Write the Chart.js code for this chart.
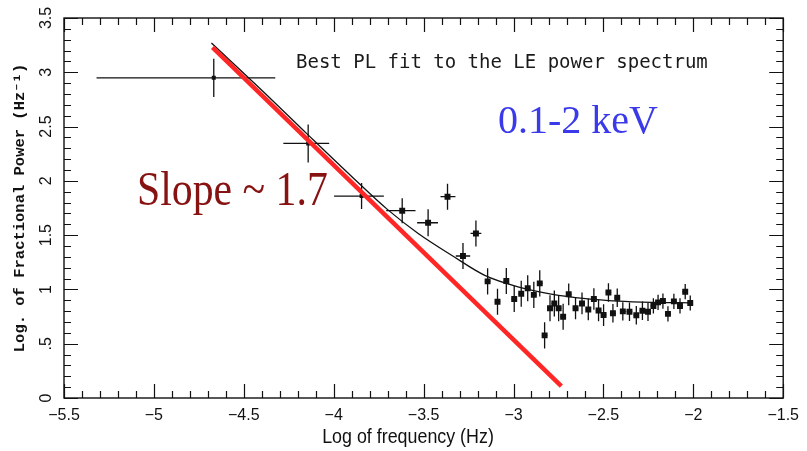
<!DOCTYPE html>
<html><head><meta charset="utf-8">
<script src="https://cdn.jsdelivr.net/npm/chart.js@4.4.1/dist/chart.umd.min.js"></script>
<style>html,body{margin:0;padding:0;background:#fff}canvas{display:block}</style>
</head><body>
<canvas id="c" width="807" height="451"></canvas>
<script>
// ---- data ----
const freq = [-4.667, -4.142, -3.845, -3.619, -3.475, -3.367, -3.281, -3.209,
  -3.144, -3.089, -3.040, -2.996, -2.957, -2.921, -2.887, -2.854, -2.827, -2.797, -2.773, -2.749, -2.724,
  -2.693, -2.655, -2.619, -2.584, -2.553, -2.527, -2.499,
  -2.472, -2.447, -2.423, -2.392, -2.355, -2.317, -2.283, -2.252,
  -2.222, -2.196, -2.169, -2.141, -2.108, -2.074, -2.045, -2.017];
const power = [2.949, 2.345, 1.86, 1.725, 1.614, 1.854, 1.308, 1.516,
  1.074, 0.887, 1.078, 0.912, 0.96, 1.01, 0.95, 1.056, 0.577, 0.826, 0.871, 0.826, 0.749,
  0.955, 0.826, 0.871, 0.816, 0.912, 0.806, 0.764,
  0.972, 0.78, 0.923, 0.798, 0.795, 0.762, 0.804, 0.795,
  0.848, 0.881, 0.893, 0.775, 0.89, 0.848, 0.979, 0.875];
const freqLo = [-5.319, -4.28, -3.998, -3.708, -3.536, -3.406, -3.321, -3.239,
  -3.159, -3.104, -3.055, -3.011, -2.972, -2.936, -2.902, -2.869, -2.842, -2.812, -2.788, -2.764, -2.739,
  -2.708, -2.67, -2.634, -2.599, -2.568, -2.542, -2.514,
  -2.487, -2.462, -2.438, -2.407, -2.37, -2.332, -2.298, -2.267,
  -2.237, -2.211, -2.184, -2.156, -2.123, -2.089, -2.06, -2.032];
const freqHi = [-4.325, -4.025, -3.721, -3.545, -3.42, -3.323, -3.241, -3.179,
  -3.129, -3.074, -3.025, -2.981, -2.942, -2.906, -2.872, -2.839, -2.812, -2.782, -2.758, -2.734, -2.709,
  -2.678, -2.64, -2.604, -2.569, -2.538, -2.512, -2.484,
  -2.457, -2.432, -2.408, -2.377, -2.34, -2.302, -2.268, -2.237,
  -2.207, -2.181, -2.154, -2.126, -2.093, -2.059, -2.03, -2.002];
const powerErr = [0.176, 0.175, 0.12, 0.115, 0.125, 0.12, 0.12, 0.12,
  0.12, 0.12, 0.12, 0.12, 0.12, 0.12, 0.12, 0.12, 0.12, 0.12, 0.12, 0.12, 0.12,
  0.1, 0.1, 0.1, 0.1, 0.1, 0.1, 0.1,
  0.085, 0.085, 0.085, 0.085, 0.085, 0.085, 0.085, 0.085,
  0.07, 0.07, 0.07, 0.07, 0.07, 0.07, 0.07, 0.07];
// best power-law fit curve (black)
const fitFreq  = [-4.68, -4.4, -4.15, -3.9, -3.7, -3.53, -3.34, -3.16, -2.97, -2.79, -2.6, -2.42, -2.23, -2.01];
const fitPower = [3.27, 2.835, 2.435, 2.04, 1.735, 1.515, 1.31, 1.13, 1.022, 0.957, 0.915, 0.892, 0.881, 0.877];
// slope ~1.7 line (red)
const slopeFreq  = [-4.674, -2.734];
const slopePower = [3.229, 0.11];
// tick labels
const xTickLabels = ['\u22125.5', '\u22125', '\u22124.5', '\u22124', '\u22123.5', '\u22123', '\u22122.5', '\u22122', '\u22121.5'];
const yTickLabels = ['0', '.5', '1', '1.5', '2', '2.5', '3', '3.5'];
const xMin = -5.5, xMax = -1.5, yMin = 0, yMax = 3.5;

const pts = freq.map((f, i) => ({x: f, y: power[i]}));
const fitPts = fitFreq.map((f, i) => ({x: f, y: fitPower[i]}));
const slopePts = slopeFreq.map((f, i) => ({x: f, y: slopePower[i]}));

const errorBars = {
  id: 'errorBars',
  beforeDatasetsDraw(chart) {
    const {ctx, scales: {x, y}} = chart;
    ctx.save();
    ctx.strokeStyle = '#111';
    ctx.lineWidth = 1.3;
    ctx.beginPath();
    freq.forEach((f, i) => {
      const px = x.getPixelForValue(f), py = y.getPixelForValue(power[i]);
      ctx.moveTo(x.getPixelForValue(freqLo[i]), py);
      ctx.lineTo(x.getPixelForValue(freqHi[i]), py);
      ctx.moveTo(px, y.getPixelForValue(power[i] - powerErr[i]));
      ctx.lineTo(px, y.getPixelForValue(power[i] + powerErr[i]));
    });
    ctx.stroke();
    ctx.restore();
  }
};

const frameTicks = {
  id: 'frameTicks',
  afterDraw(chart) {
    const {ctx, chartArea: a, scales: {x, y}} = chart;
    ctx.save();
    ctx.strokeStyle = '#111';
    ctx.lineWidth = 1.4;
    ctx.strokeRect(a.left, a.top, a.right - a.left, a.bottom - a.top);
    ctx.lineWidth = 1.2;
    ctx.beginPath();
    for (let k = 0; k <= 40; k++) {
      const v = xMin + k * 0.1;
      const px = Math.round(x.getPixelForValue(v)) + 0.5;
      const len = (k % 5 === 0) ? 14 : 7;
      ctx.moveTo(px, a.bottom); ctx.lineTo(px, a.bottom - len);
      ctx.moveTo(px, a.top); ctx.lineTo(px, a.top + len);
    }
    for (let k = 0; k <= 35; k++) {
      const v = yMin + k * 0.1;
      const py = Math.round(y.getPixelForValue(v)) + 0.5;
      const len = (k % 5 === 0) ? 14 : 7;
      ctx.moveTo(a.left, py); ctx.lineTo(a.left + len, py);
      ctx.moveTo(a.right, py); ctx.lineTo(a.right - len, py);
    }
    ctx.stroke();

    // y tick labels, rotated, centred on their ticks
    ctx.fillStyle = '#111';
    ctx.font = '16px "Liberation Sans", sans-serif';
    ctx.textAlign = 'center';
    ctx.textBaseline = 'middle';
    y.ticks.forEach(t => {
      const py = y.getPixelForValue(t.value);
      const lab = yTickLabels[Math.round((t.value - yMin) / 0.5)];
      ctx.save();
      ctx.translate(47, py);
      ctx.rotate(-Math.PI / 2);
      ctx.fillText(lab, 0, 0);
      ctx.restore();
    });

    // x axis title (condensed)
    ctx.save();
    ctx.translate(408, 437);
    ctx.scale(0.85, 1);
    ctx.font = '21px "Liberation Sans", sans-serif';
    ctx.fillText('Log of frequency (Hz)', 0, 0);
    ctx.restore();

    // annotations
    ctx.fillStyle = '#1a1a1a';
    ctx.font = '19px "DejaVu Sans Mono"';
    ctx.textBaseline = 'alphabetic';
    ctx.textAlign = 'left';
    ctx.fillText('Best PL fit to the LE power spectrum', 296, 68);

    ctx.fillStyle = 'rgb(58,58,235)';
    ctx.font = '40px "Liberation Serif"';
    ctx.fillText('0.1-2 keV', 498, 133);

    ctx.save();
    ctx.translate(137, 205);
    ctx.scale(0.87, 1);
    ctx.fillStyle = 'rgb(135,18,18)';
    ctx.font = '48px "Liberation Serif"';
    ctx.fillText('Slope ~ 1.7', 0, 0);
    ctx.restore();
    ctx.restore();
  }
};

new Chart(document.getElementById('c'), {
  type: 'scatter',
  data: {
    datasets: [
      {label: 'slope', data: slopePts, showLine: true, borderColor: '#ff2626', borderWidth: 4.5,
       pointRadius: 0, order: 0},
      {label: 'data', data: pts, pointStyle: 'rect',
       pointRadius: freq.map((f, i) => i < 3 ? 2.8 : 4.2),
       backgroundColor: '#111', borderColor: '#111', borderWidth: 0, order: 1},
      {label: 'fit', data: fitPts, showLine: true, borderColor: '#111', borderWidth: 1.3,
       pointRadius: 0, cubicInterpolationMode: 'monotone', order: 2}
    ]
  },
  options: {
    responsive: false, animation: false, devicePixelRatio: 1,
    layout: {padding: {top: 18, right: 21, left: 0, bottom: 0}},
    plugins: {legend: {display: false}, tooltip: {enabled: false}},
    scales: {
      x: {
        type: 'linear', min: xMin, max: xMax,
        grid: {display: false, drawTicks: false}, border: {display: false},
        ticks: {stepSize: 0.5, padding: 8, autoSkip: false, maxRotation: 0, color: '#111',
                font: {family: '"Liberation Sans", sans-serif', size: 16},
                callback: v => xTickLabels[Math.round((v - xMin) / 0.5)]},
        title: {display: false},
        afterFit: s => { s.height = 53; }
      },
      y: {
        type: 'linear', min: yMin, max: yMax,
        grid: {display: false, drawTicks: false}, border: {display: false},
        ticks: {display: false, stepSize: 0.5, autoSkip: false},
        title: {display: true, text: 'Log. of Fractional Power (Hz\u207B\u00B9)', color: '#111',
                font: {family: '"Liberation Mono", monospace', size: 15.5, weight: 'bold'},
                padding: {top: 11, bottom: 0}},
        afterFit: s => { s.width = 64; }
      }
    }
  },
  plugins: [errorBars, frameTicks]
});
</script>
</body></html>
